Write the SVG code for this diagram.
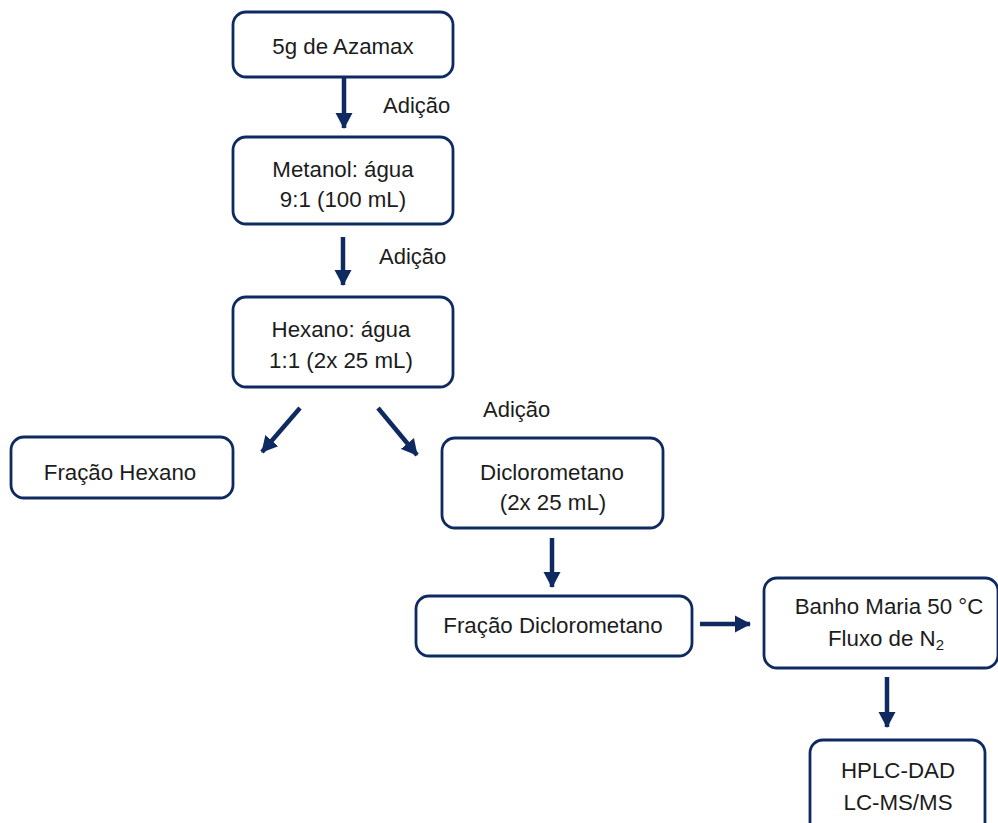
<svg xmlns="http://www.w3.org/2000/svg" width="998" height="823" viewBox="0 0 998 823">
<style>
.box{fill:#ffffff;stroke:#0f2a60;stroke-width:2.8}
.t{font-family:"Liberation Sans",Arial,sans-serif;font-size:22.3px;fill:#1c1c1c;text-anchor:middle}
.l{font-family:"Liberation Sans",Arial,sans-serif;font-size:22px;fill:#1c1c1c}
.c{stroke:#0f2a60;stroke-width:4.5;fill:none;marker-end:url(#ah)}
</style>
<defs>
<marker id="ah" markerUnits="userSpaceOnUse" markerWidth="18" markerHeight="18" refX="15" refY="9" orient="auto" viewBox="0 0 18 18">
<path d="M0,0.5 L16,9 L0,17.5 Z" fill="#0f2a60"/>
</marker>
</defs>
<rect width="998" height="823" fill="#ffffff"/>
<g id="connectors">
<line class="c" x1="344" y1="78" x2="344" y2="128"/>
<line class="c" x1="343" y1="237" x2="343" y2="285"/>
<line class="c" x1="300" y1="408" x2="262" y2="452"/>
<line class="c" x1="378" y1="408" x2="417" y2="455"/>
<line class="c" x1="552" y1="538" x2="552" y2="587"/>
<line class="c" x1="700" y1="624" x2="750" y2="624"/>
<line class="c" x1="887" y1="677" x2="887" y2="727"/>
<text class="l" x="383" y="113">Adição</text>
<text class="l" x="379" y="264">Adição</text>
<text class="l" x="483" y="417">Adição</text>
</g>
<g id="azamax">
<rect class="box" x="233" y="12" width="220" height="65" rx="13"/>
<text class="t" x="343" y="54">5g de Azamax</text>
</g>
<g id="metanol">
<rect class="box" x="233" y="137" width="220" height="87" rx="13"/>
<text class="t" x="343" y="177">Metanol: água</text>
<text class="t" x="343" y="207">9:1 (100 mL)</text>
</g>
<g id="hexano">
<rect class="box" x="233" y="297" width="220" height="90" rx="13"/>
<text class="t" x="341" y="337">Hexano: água</text>
<text class="t" x="341" y="368">1:1 (2x 25 mL)</text>
</g>
<g id="fracao-hexano">
<rect class="box" x="11" y="437" width="222" height="61" rx="13"/>
<text class="t" x="120" y="480">Fração Hexano</text>
</g>
<g id="diclorometano">
<rect class="box" x="442" y="438" width="221" height="90" rx="13"/>
<text class="t" x="552" y="480">Diclorometano</text>
<text class="t" x="553" y="510">(2x 25 mL)</text>
</g>
<g id="fracao-diclorometano">
<rect class="box" x="416" y="596" width="276" height="60" rx="13"/>
<text class="t" x="553" y="633">Fração Diclorometano</text>
</g>
<g id="banho">
<rect class="box" x="764" y="578" width="234" height="90" rx="13"/>
<text class="t" x="889" y="614">Banho Maria 50 °C</text>
<text class="t" x="886" y="646">Fluxo de N<tspan font-size="15" dy="4">2</tspan></text>
</g>
<g id="hplc">
<rect class="box" x="810" y="740" width="175" height="100" rx="13"/>
<text class="t" x="898" y="778">HPLC-DAD</text>
<text class="t" x="898" y="810">LC-MS/MS</text>
</g>
</svg>
